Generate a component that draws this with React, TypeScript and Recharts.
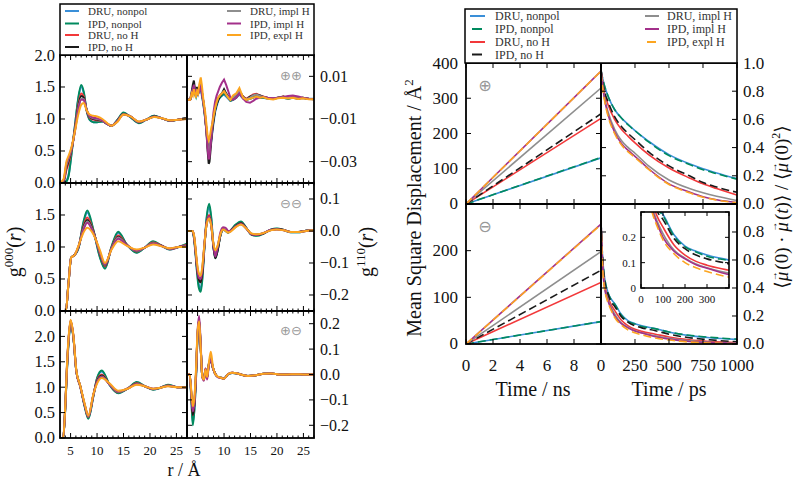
import React from "react";
import { LineChart, Line, XAxis, YAxis } from "recharts";

const SERIF = "'Liberation Serif', 'DejaVu Serif', serif";
const SYMBOL = "'DejaVu Sans', sans-serif";

// series order: DRU nonpol, IPD nonpol, DRU no H, IPD no H, DRU impl H, IPD impl H, IPD expl H
const seriesNames = ["DRU, nonpol", "IPD, nonpol", "DRU, no H", "IPD, no H", "DRU, impl H", "IPD, impl H", "IPD, expl H"];
const seriesColors = ["#3A8FD8", "#008A5E", "#F2383A", "#1A1A1A", "#8E8E8E", "#A3308A", "#FCA520"];
const dashedRight = [false, true, false, true, false, false, true];

// ---- g000(r), ++ ----
const r000PP = [3, 3.7, 4.2, 4.6, 5.2, 5.8, 6.4, 7.0, 7.5, 8.0, 8.6, 9.3, 10, 11, 12, 12.7, 13.8, 15, 16.3, 17.9, 19.3, 20.8, 22.3, 23.8, 25.3, 27];
const g000PP = [
  [0, 0, 0.03, 0.12, 0.48, 0.88, 1.28, 1.5, 1.4, 1.14, 0.99, 0.95, 0.95, 0.96, 0.92, 0.89, 0.98, 1.09, 1.03, 0.94, 0.99, 1.05, 1.01, 0.97, 0.99, 1.02],
  [0, 0, 0.02, 0.1, 0.47, 0.88, 1.3, 1.53, 1.42, 1.15, 0.99, 0.95, 0.95, 0.96, 0.92, 0.89, 0.98, 1.1, 1.03, 0.935, 0.99, 1.05, 1.01, 0.97, 0.99, 1.02],
  [0, 0.02, 0.2, 0.3, 0.52, 0.84, 1.2, 1.4, 1.35, 1.15, 1.02, 0.99, 0.98, 0.97, 0.92, 0.895, 0.97, 1.08, 1.04, 0.95, 0.99, 1.04, 1.01, 0.975, 0.99, 1.01],
  [0, 0.03, 0.24, 0.34, 0.53, 0.82, 1.17, 1.36, 1.33, 1.15, 1.03, 1.0, 0.99, 0.97, 0.92, 0.895, 0.97, 1.08, 1.04, 0.95, 0.99, 1.04, 1.01, 0.975, 0.99, 1.01],
  [0, 0.04, 0.27, 0.37, 0.54, 0.81, 1.14, 1.32, 1.31, 1.15, 1.04, 1.01, 1.0, 0.975, 0.92, 0.895, 0.965, 1.075, 1.04, 0.955, 0.99, 1.035, 1.01, 0.975, 0.99, 1.005],
  [0, 0.05, 0.3, 0.39, 0.55, 0.8, 1.12, 1.3, 1.3, 1.15, 1.05, 1.02, 1.01, 0.98, 0.92, 0.895, 0.96, 1.07, 1.04, 0.955, 0.99, 1.035, 1.01, 0.975, 0.99, 1.0],
  [0, 0.07, 0.33, 0.42, 0.57, 0.8, 1.05, 1.22, 1.25, 1.14, 1.07, 1.05, 1.04, 1.0, 0.93, 0.895, 0.95, 1.07, 1.04, 0.96, 0.99, 1.03, 1.01, 0.98, 0.99, 1.0],
];

// ---- g000(r), -- ----
const r000MM = [3, 4.1, 4.6, 5.1, 5.8, 6.5, 7.4, 8.15, 9.3, 10.5, 11.5, 12.75, 14, 15.6, 17.5, 19, 20.6, 22.2, 23.75, 25.4, 27];
const g000MM = [
  [0, 0, 0.43, 0.83, 0.88, 0.99, 1.36, 1.54, 1.26, 0.86, 0.67, 1.0, 1.22, 1.04, 0.915, 0.99, 1.08, 1.02, 0.96, 1.0, 1.04],
  [0, 0, 0.43, 0.83, 0.88, 0.98, 1.38, 1.57, 1.27, 0.85, 0.66, 1.01, 1.24, 1.04, 0.91, 0.99, 1.09, 1.02, 0.96, 1.0, 1.05],
  [0, 0, 0.43, 0.83, 0.88, 1.0, 1.32, 1.46, 1.25, 0.9, 0.7, 0.99, 1.18, 1.04, 0.93, 0.99, 1.07, 1.02, 0.965, 1.0, 1.03],
  [0, 0, 0.43, 0.83, 0.88, 1.0, 1.3, 1.42, 1.24, 0.91, 0.71, 0.985, 1.16, 1.035, 0.935, 0.99, 1.06, 1.02, 0.97, 1.0, 1.02],
  [0, 0, 0.43, 0.83, 0.88, 1.01, 1.28, 1.4, 1.23, 0.92, 0.72, 0.98, 1.15, 1.03, 0.94, 0.99, 1.06, 1.015, 0.97, 1.0, 1.02],
  [0, 0, 0.43, 0.83, 0.88, 1.01, 1.26, 1.38, 1.22, 0.93, 0.73, 0.975, 1.13, 1.03, 0.945, 0.99, 1.05, 1.015, 0.975, 1.0, 1.01],
  [0, 0, 0.43, 0.83, 0.88, 1.02, 1.22, 1.3, 1.2, 0.96, 0.75, 0.96, 1.09, 1.02, 0.96, 0.99, 1.04, 1.01, 0.98, 1.0, 1.0],
];

// ---- g000(r), +- ----
const r000PM = [3, 3.6, 4.0, 4.3, 4.6, 5.0, 5.5, 6.1, 6.8, 7.7, 8.35, 9.3, 10.0, 10.9, 12.4, 14.0, 15.9, 17.5, 19.0, 20.6, 22.0, 23.4, 25.2, 27];
const g000PM = [
  [0, 0, 0.6, 1.3, 1.85, 2.26, 2.0, 1.3, 1.03, 0.61, 0.39, 0.82, 1.17, 1.31, 1.04, 0.885, 0.98, 1.09, 1.02, 0.955, 0.99, 1.045, 1.0, 1.0],
  [0, 0, 0.6, 1.3, 1.85, 2.25, 2.0, 1.3, 1.03, 0.6, 0.38, 0.82, 1.18, 1.33, 1.04, 0.88, 0.98, 1.1, 1.02, 0.95, 0.99, 1.05, 1.0, 1.0],
  [0, 0, 0.62, 1.35, 1.9, 2.3, 2.02, 1.3, 1.03, 0.63, 0.41, 0.84, 1.14, 1.25, 1.05, 0.9, 0.98, 1.08, 1.02, 0.96, 0.99, 1.035, 1.0, 1.0],
  [0, 0, 0.62, 1.35, 1.9, 2.3, 2.02, 1.3, 1.03, 0.63, 0.42, 0.84, 1.12, 1.23, 1.05, 0.905, 0.98, 1.07, 1.02, 0.965, 0.99, 1.03, 1.0, 1.0],
  [0, 0, 0.63, 1.37, 1.92, 2.31, 2.03, 1.3, 1.03, 0.64, 0.42, 0.84, 1.1, 1.21, 1.05, 0.91, 0.98, 1.065, 1.02, 0.965, 0.99, 1.03, 1.0, 1.0],
  [0, 0, 0.64, 1.38, 1.93, 2.32, 2.04, 1.3, 1.03, 0.64, 0.43, 0.85, 1.1, 1.2, 1.055, 0.915, 0.98, 1.06, 1.02, 0.97, 0.99, 1.025, 1.0, 1.0],
  [0, 0, 0.65, 1.4, 1.95, 2.33, 2.05, 1.32, 1.04, 0.66, 0.44, 0.86, 1.07, 1.18, 1.07, 0.93, 0.975, 1.05, 1.02, 0.97, 0.99, 1.02, 1.0, 1.0],
];

// ---- g110(r), ++ ----
const r110PP = [
  3, 3.6, 3.9, 4.1, 4.3, 4.5, 4.7, 4.9, 5.1, 5.3,
  5.6, 5.8, 6.1, 6.4, 6.7, 6.9, 7.1, 7.25, 7.4, 7.6,
  7.8, 8.0, 8.3, 8.6, 8.9, 9.2, 9.6, 10.0, 10.4, 10.8,
  11.2, 11.7, 12.3, 12.9, 13.6, 14.2, 14.9, 15.5, 16.1, 16.8,
  17.4, 18.2, 19.3, 20.2, 21.2, 22.1, 23, 24, 24.9, 26,
  27,
];
const g110PP = [
  [
    -0.001, -0.001, 0.001, 0.003, 0.004, 0.002, 0.0, 0.003, 0.0015, 0.003,
    0.004, 0.001, -0.003, -0.009, -0.015, -0.02, -0.023, -0.024, -0.023, -0.02,
    -0.016, -0.012, -0.007, -0.004, -0.0015, 0.0, 0.001, 0.0015, 0.0005, -0.0005,
    -0.0015, -0.001, 0.0, 0.0015, -0.0005, -0.001, -0.0005, 0.0, 0.0005, 0.0,
    0.0, -0.0005, -0.0005, 0.0, 0.0, -0.0005, 0.0, -0.0003, 0.0, -0.0005,
    -0.0005,
  ],
  [
    -0.001, -0.001, 0.001, 0.003, 0.005, 0.002, 0.0005, 0.003, 0.002, 0.003,
    0.005, 0.002, -0.003, -0.009, -0.016, -0.022, -0.025, -0.024, -0.022, -0.018,
    -0.014, -0.01, -0.006, -0.003, -0.001, 0.0, 0.001, 0.002, 0.001, 0.0,
    -0.0015, -0.001, 0.0, 0.002, 0.0, -0.001, -0.0005, 0.0, 0.0005, 0.0,
    0.0, -0.0003, -0.0005, 0.0, 0.0, -0.0005, 0.0, -0.0003, 0.0, -0.0005,
    -0.0006,
  ],
  [
    -0.001, -0.001, 0.002, 0.004, 0.006, 0.003, 0.001, 0.004, 0.002, 0.004,
    0.006, 0.003, -0.002, -0.008, -0.016, -0.023, -0.027, -0.026, -0.023, -0.019,
    -0.014, -0.01, -0.005, -0.002, 0.0, 0.001, 0.002, 0.003, 0.0015, 0.0,
    -0.001, 0.0, 0.001, 0.003, 0.0005, -0.0005, 0.0005, 0.0015, 0.0018, 0.001,
    0.0005, 0.0, -0.0003, 0.0, 0.0005, 0.0, 0.0003, -0.0003, 0.0, -0.0005,
    -0.0007,
  ],
  [
    -0.001, -0.001, 0.003, 0.006, 0.008, 0.004, 0.0015, 0.005, 0.003, 0.004,
    0.006, 0.003, -0.002, -0.008, -0.017, -0.025, -0.031, -0.03, -0.026, -0.02,
    -0.015, -0.011, -0.006, -0.003, -0.001, 0.0005, 0.002, 0.004, 0.002, 0.0005,
    -0.001, 0.0, 0.0015, 0.003, 0.0005, -0.001, 0.0005, 0.001, 0.0015, 0.001,
    0.0005, 0.0, -0.0005, 0.0, 0.0005, -0.0003, 0.0, -0.0005, -0.0002, -0.0006,
    -0.0008,
  ],
  [
    -0.001, -0.001, 0.002, 0.004, 0.005, 0.003, 0.001, 0.004, 0.002, 0.004,
    0.006, 0.003, -0.002, -0.008, -0.016, -0.022, -0.026, -0.025, -0.022, -0.018,
    -0.013, -0.009, -0.005, -0.002, 0.0, 0.001, 0.002, 0.003, 0.0015, 0.0,
    -0.001, 0.0, 0.0015, 0.003, 0.0, -0.0008, 0.0, 0.001, 0.0015, 0.0008,
    0.0003, 0.0, -0.0003, 0.0, 0.0003, -0.0002, 0.0, -0.0004, 0.0, -0.0005,
    -0.0006,
  ],
  [
    -0.001, -0.001, 0.002, 0.004, 0.006, 0.003, 0.001, 0.004, 0.002, 0.003,
    0.005, 0.002, -0.002, -0.008, -0.016, -0.024, -0.029, -0.028, -0.024, -0.018,
    -0.012, -0.007, -0.002, 0.001, 0.003, 0.005, 0.007, 0.0085, 0.006, 0.003,
    0.0, -0.001, 0.0, 0.002, -0.0005, -0.002, -0.0024, -0.0015, -0.0005, 0.0,
    0.0005, 0.0, -0.0003, 0.0, 0.0003, 0.0008, 0.001, 0.0005, 0.0, -0.0005,
    -0.0006,
  ],
  [
    -0.001, -0.001, 0.002, 0.001, 0.004, 0.002, 0.0, 0.003, 0.002, 0.006,
    0.0095, 0.006, -0.001, -0.006, -0.013, -0.018, -0.02, -0.019, -0.017, -0.014,
    -0.012, -0.009, -0.005, -0.002, 0.0, 0.001, 0.002, 0.003, 0.0015, 0.0,
    -0.001, 0.001, 0.002, 0.0045, 0.0, -0.001, -0.0005, 0.0, 0.0005, 0.0,
    0.0003, -0.0005, -0.0008, -0.0003, 0.0, -0.0004, 0.0, -0.0006, -0.0003, -0.0008,
    -0.0007,
  ],
];

// ---- g110(r), -- ----
const r110MM = [3, 4.0, 4.3, 4.6, 4.9, 5.2, 5.6, 5.9, 6.3, 6.7, 7.2, 7.6, 8.0, 8.35, 8.8, 9.3, 9.8, 10.3, 10.8, 11.4, 12.2, 13.2, 14.2, 15.2, 16.2, 17.5, 18.8, 20, 21.3, 22.6, 24, 25.5, 27];
const g110MM = [
  [0, 0, -0.02, -0.065, -0.125, -0.165, -0.18, -0.145, -0.05, 0.035, 0.075, 0.035, -0.05, -0.08, -0.058, -0.015, 0.004, 0.0, -0.005, 0.004, 0.018, 0.027, 0.01, -0.011, -0.014, -0.007, 0.004, 0.007, 0.003, -0.004, -0.004, 0.001, 0.003],
  [0, 0, -0.02, -0.07, -0.13, -0.175, -0.19, -0.15, -0.05, 0.04, 0.085, 0.04, -0.05, -0.085, -0.06, -0.015, 0.005, 0.0, -0.005, 0.005, 0.02, 0.03, 0.01, -0.012, -0.015, -0.008, 0.004, 0.008, 0.003, -0.004, -0.004, 0.001, 0.003],
  [0, 0, -0.015, -0.06, -0.115, -0.15, -0.16, -0.13, -0.045, 0.025, 0.05, 0.02, -0.045, -0.075, -0.055, -0.013, 0.006, 0.002, -0.004, 0.003, 0.015, 0.024, 0.009, -0.01, -0.012, -0.007, 0.003, 0.006, 0.003, -0.003, -0.003, 0.001, 0.002],
  [0, 0, -0.015, -0.06, -0.115, -0.15, -0.16, -0.13, -0.045, 0.022, 0.045, 0.015, -0.05, -0.085, -0.06, -0.015, 0.005, 0.002, -0.004, 0.003, 0.015, 0.024, 0.009, -0.01, -0.012, -0.007, 0.003, 0.006, 0.003, -0.003, -0.003, 0.001, 0.002],
  [0, 0, -0.012, -0.055, -0.105, -0.135, -0.14, -0.115, -0.04, 0.02, 0.04, 0.015, -0.04, -0.065, -0.048, -0.012, 0.005, 0.002, -0.004, 0.002, 0.013, 0.021, 0.008, -0.009, -0.011, -0.006, 0.003, 0.005, 0.002, -0.003, -0.003, 0.0, 0.002],
  [0, 0, -0.013, -0.058, -0.11, -0.145, -0.15, -0.12, -0.04, 0.025, 0.045, 0.015, -0.045, -0.08, -0.05, -0.005, 0.012, 0.01, 0.0, 0.003, 0.014, 0.022, 0.008, -0.01, -0.012, -0.006, 0.003, 0.005, 0.002, -0.003, -0.003, 0.0, 0.002],
  [0, 0, -0.01, -0.05, -0.1, -0.13, -0.14, -0.11, -0.04, 0.02, 0.04, 0.015, -0.04, -0.06, -0.045, -0.01, 0.005, 0.0, -0.005, 0.0, 0.012, 0.02, 0.008, -0.008, -0.01, -0.006, 0.002, 0.005, 0.002, -0.003, -0.003, 0.0, 0.002],
];

// ---- g110(r), +- ----
const r110PM = [3, 3.5, 3.8, 4.1, 4.4, 4.7, 5.0, 5.3, 5.6, 5.9, 6.2, 6.5, 6.8, 7.1, 7.5, 7.9, 8.3, 8.8, 9.4, 10, 10.8, 11.6, 12.5, 13.5, 14.5, 16, 17.5, 19, 20.5, 22, 23.5, 25, 27];
const g110PM = [
  [0, 0, -0.085, -0.19, -0.135, -0.015, 0.15, 0.2, 0.1, -0.01, -0.02, 0.02, -0.01, 0.035, 0.055, 0.025, 0.004, -0.009, -0.013, -0.015, 0.001, 0.006, 0.004, -0.002, -0.006, -0.003, 0.003, 0.003, 0.0, 0.0, 0.001, 0.0, 0.0],
  [0, 0, -0.09, -0.2, -0.14, -0.02, 0.15, 0.2, 0.1, -0.01, -0.02, 0.02, -0.01, 0.035, 0.055, 0.025, 0.004, -0.009, -0.013, -0.015, 0.001, 0.006, 0.004, -0.002, -0.006, -0.003, 0.003, 0.003, 0.0, 0.0, 0.001, 0.0, 0.0],
  [0, 0, -0.075, -0.16, -0.115, 0.0, 0.16, 0.215, 0.1, -0.01, -0.02, 0.022, -0.012, 0.035, 0.06, 0.027, 0.004, -0.009, -0.013, -0.015, 0.002, 0.007, 0.004, -0.002, -0.006, -0.003, 0.003, 0.004, 0.0, 0.0, 0.001, 0.0, 0.0],
  [0, 0, -0.075, -0.16, -0.115, 0.0, 0.16, 0.215, 0.1, -0.01, -0.02, 0.022, -0.012, 0.04, 0.056, 0.027, 0.004, -0.009, -0.013, -0.016, 0.002, 0.007, 0.004, -0.002, -0.006, -0.003, 0.003, 0.004, 0.0, 0.0, 0.001, 0.0, 0.0],
  [0, 0, -0.07, -0.14, -0.1, 0.01, 0.165, 0.215, 0.105, -0.01, -0.02, 0.022, -0.012, 0.038, 0.07, 0.028, 0.004, -0.009, -0.013, -0.016, 0.002, 0.007, 0.004, -0.002, -0.006, -0.003, 0.003, 0.004, 0.0, 0.0, 0.001, 0.0, 0.0],
  [0, 0, -0.07, -0.145, -0.11, 0.0, 0.17, 0.23, 0.11, -0.01, -0.025, 0.025, -0.02, 0.03, 0.06, 0.025, 0.004, -0.01, -0.014, -0.016, 0.002, 0.007, 0.004, -0.002, -0.006, -0.003, 0.003, 0.004, 0.0, 0.0, 0.001, 0.0, 0.0],
  [0, 0, -0.06, -0.125, -0.09, 0.02, 0.17, 0.21, 0.1, -0.01, -0.02, 0.02, -0.01, 0.04, 0.09, 0.03, 0.004, -0.008, -0.013, -0.016, 0.002, 0.007, 0.004, -0.002, -0.006, -0.003, 0.003, 0.004, 0.0, 0.0, 0.001, 0.0, 0.0],
];

// ---- mean square displacement (Å^2) vs time (ns) ----
const tMSD = [0, 10];
const msdPlus = [[0, 131], [0, 132], [0, 243], [0, 256], [0, 329], [0, 377], [0, 377]];
const msdMinus = [[0, 48], [0, 48], [0, 132], [0, 158], [0, 198], [0, 257], [0, 256]];

// ---- dipole autocorrelation vs time (ps) ----
const tDipPlus = [0, 10, 25, 50, 100, 150, 200, 250, 350, 500, 650, 750, 850, 1000];
const dipPlus = [
  [0.95, 0.9, 0.84, 0.77, 0.67, 0.61, 0.565, 0.52, 0.445, 0.35, 0.285, 0.25, 0.22, 0.18],
  [0.95, 0.9, 0.84, 0.77, 0.67, 0.61, 0.56, 0.52, 0.44, 0.343, 0.28, 0.243, 0.215, 0.176],
  [0.95, 0.88, 0.79, 0.71, 0.6, 0.53, 0.48, 0.433, 0.35, 0.255, 0.185, 0.143, 0.11, 0.064],
  [0.95, 0.88, 0.8, 0.73, 0.62, 0.55, 0.5, 0.457, 0.37, 0.27, 0.2, 0.152, 0.12, 0.083],
  [0.95, 0.86, 0.76, 0.66, 0.53, 0.45, 0.4, 0.36, 0.27, 0.17, 0.11, 0.08, 0.055, 0.025],
  [0.95, 0.85, 0.75, 0.64, 0.51, 0.43, 0.38, 0.338, 0.25, 0.143, 0.085, 0.052, 0.03, 0.01],
  [0.93, 0.84, 0.74, 0.63, 0.5, 0.42, 0.37, 0.33, 0.245, 0.138, 0.08, 0.048, 0.028, 0.008],
];
const tDipMinus = [0, 5, 10, 20, 30, 50, 75, 100, 150, 200, 250, 300, 400, 500, 650, 800, 1000];
const dipMinus = [
  [0.88, 0.75, 0.65, 0.52, 0.45, 0.37, 0.32, 0.29, 0.21, 0.165, 0.145, 0.13, 0.11, 0.085, 0.06, 0.045, 0.033],
  [0.88, 0.75, 0.65, 0.52, 0.45, 0.37, 0.315, 0.285, 0.205, 0.162, 0.142, 0.125, 0.108, 0.085, 0.062, 0.048, 0.035],
  [0.88, 0.73, 0.62, 0.48, 0.41, 0.34, 0.28, 0.24, 0.17, 0.13, 0.105, 0.09, 0.07, 0.05, 0.03, 0.018, 0.01],
  [0.88, 0.74, 0.63, 0.5, 0.43, 0.36, 0.3, 0.27, 0.195, 0.155, 0.13, 0.115, 0.095, 0.07, 0.045, 0.03, 0.015],
  [0.88, 0.72, 0.6, 0.46, 0.39, 0.32, 0.26, 0.215, 0.15, 0.118, 0.095, 0.08, 0.058, 0.04, 0.022, 0.012, 0.006],
  [0.88, 0.72, 0.6, 0.45, 0.38, 0.31, 0.25, 0.2, 0.145, 0.115, 0.092, 0.078, 0.052, 0.035, 0.018, 0.01, 0.005],
  [0.87, 0.71, 0.58, 0.44, 0.37, 0.3, 0.24, 0.19, 0.135, 0.1, 0.08, 0.065, 0.043, 0.028, 0.014, 0.007, 0.003],
];

// ---- tick values ----
const rTicks = [3, 4, 5, 6, 7, 8, 9, 10, 11, 12, 13, 14, 15, 16, 17, 18, 19, 20, 21, 22, 23, 24, 25, 26, 27];
const rMajor = [5, 10, 15, 20, 25];
const gTicks = [0, 0.5, 1, 1.5, 2];
const gTicks3 = [0, 0.5, 1, 1.5, 2, 2.5];
const g110TicksPP = [0.01, -0.01, -0.03];
const g110TicksMM = [-0.2, -0.1, 0, 0.1];
const g110TicksPM = [-0.2, -0.1, 0, 0.1, 0.2];
const nsTicks = [0, 2, 4, 6, 8, 10];
const nsLabels = [0, 2, 4, 6, 8];
const msdTicks = [0, 100, 200, 300, 400];
const psTicks = [0, 250, 500, 750, 1000];
const dipTicks = [0, 0.2, 0.4, 0.6, 0.8, 1.0];
const insetX = [0, 100, 200, 300, 400];
const insetXLabels = [0, 100, 200, 300];
const insetY = [0, 0.1, 0.2, 0.3];

const minus = (s: string) => s.replace("-", "\u2212");
const f1 = (v: number) => minus(v.toFixed(1));
const f2 = (v: number) => minus(v.toFixed(2));
const f0 = (v: number) => String(Math.round(v));
const fInsetY = (v: number) => (v === 0 ? "0" : v.toFixed(1));

type AxisSpec = { ticks: number[]; major: number[]; labeled: number[]; fmt: (v: number) => string; font: number; gap: number };

type PanelProps = {
  left: number; top: number; w: number; h: number;
  xs: number[]; ys: number[][];
  xDomain: [number, number]; yDomain: [number, number];
  xSpec: AxisSpec; ySpec: AxisSpec; ySide: "left" | "right";
  curve: "monotone" | "linear"; lw: number; dashes?: boolean[];
  tickLen?: number; minorLen?: number;
};

const near = (list: number[], v: number) => list.some((m) => Math.abs(m - v) < 1e-9);
// axes need a positive size to be drawn at all
const AX = 0.01;

function Panel(p: PanelProps) {
  const data = p.xs.map((x, i) => {
    const row: Record<string, number> = { x };
    p.ys.forEach((s, k) => {
      row["s" + k] = s[i];
    });
    return row;
  });
  const L = p.tickLen ?? 5;
  const l = p.minorLen ?? 2.5;
  const right = p.ySide === "right";

  const xTick = (t: any) => {
    const v = Number(t.payload.value);
    const len = near(p.xSpec.major, v) ? L : l;
    const x = t.x;
    const y = p.h;
    return (
      <g>
        <line x1={x} x2={x} y1={y} y2={y - len} stroke="#000" strokeWidth={1} />
        <line x1={x} x2={x} y1={0} y2={len} stroke="#000" strokeWidth={1} />
        {near(p.xSpec.labeled, v) && (
          <text x={x} y={y + p.xSpec.gap} textAnchor="middle" dominantBaseline="central" fontSize={p.xSpec.font} fontFamily={SERIF} fill="#111">
            {p.xSpec.fmt(v)}
          </text>
        )}
      </g>
    );
  };

  const yTick = (t: any) => {
    const v = Number(t.payload.value);
    const len = near(p.ySpec.major, v) ? L : l;
    const y = t.y;
    const x = right ? p.w : 0;
    const dir = right ? -1 : 1;
    const other = right ? 0 : p.w;
    return (
      <g>
        <line x1={x} x2={x + dir * len} y1={y} y2={y} stroke="#000" strokeWidth={1} />
        <line x1={other} x2={other - dir * len} y1={y} y2={y} stroke="#000" strokeWidth={1} />
        {near(p.ySpec.labeled, v) && (
          <text x={x - dir * p.ySpec.gap} y={y} textAnchor={right ? "start" : "end"} dominantBaseline="central" fontSize={p.ySpec.font} fontFamily={SERIF} fill="#111">
            {p.ySpec.fmt(v)}
          </text>
        )}
      </g>
    );
  };

  return (
    <div style={{ position: "absolute", left: p.left, top: p.top, width: p.w, height: p.h }}>
      <LineChart width={p.w} height={p.h} data={data} margin={{ top: 0, right: 0, bottom: 0, left: 0 }}>
        <XAxis dataKey="x" type="number" domain={p.xDomain} ticks={p.xSpec.ticks} interval={0} height={AX} tickSize={0} tickMargin={0} tickLine={false} axisLine={false} tick={xTick} allowDataOverflow />
        <YAxis type="number" orientation={p.ySide} domain={p.yDomain} ticks={p.ySpec.ticks} interval={0} width={AX} tickSize={0} tickMargin={0} tickLine={false} axisLine={false} tick={yTick} allowDataOverflow />
        {p.ys.map((_, k) => (
          <Line
            key={k}
            dataKey={"s" + k}
            name={seriesNames[k]}
            type={p.curve}
            stroke={seriesColors[k]}
            strokeWidth={p.lw}
            strokeDasharray={p.dashes && p.dashes[k] ? "8 4" : undefined}
            dot={false}
            activeDot={false}
            isAnimationActive={false}
          />
        ))}
      </LineChart>
    </div>
  );
}

// layout
const LX = [60, 187, 314];
const LY = [55, 183, 311, 438];
const RX = [466, 601, 737];
const RY = [63, 204, 344];
const INSET = { x: 641, y: 212, w: 88, h: 76 };

const rAxis = (labels: boolean): AxisSpec => ({ ticks: rTicks, major: rMajor, labeled: labels ? rMajor : [], fmt: f0, font: 13, gap: 12 });
const gAxis = (ticks: number[], labeled: number[]): AxisSpec => ({ ticks, major: ticks, labeled, fmt: f1, font: 16.5, gap: 5 });
const g110Axis = (ticks: number[], fmt: (v: number) => string): AxisSpec => ({ ticks, major: ticks, labeled: ticks, fmt, font: 16, gap: 6 });

function Legend({ x, y, w, h, rows, col1, col2, font, dashed }: { x: number; y: number; w: number; h: number; rows: number[]; col1: [number, number, number]; col2: [number, number, number]; font: number; dashed: boolean }) {
  const left = [0, 1, 2, 3];
  const rightCol = [4, 5, 6];
  const entry = (k: number, c: [number, number, number], ry: number) => {
    const d = dashed && dashedRight[k];
    return (
      <g key={k}>
        <line x1={d ? c[0] + 2 : c[0]} x2={d ? c[1] - 3 : c[1]} y1={ry} y2={ry} stroke={seriesColors[k]} strokeWidth={2} />
        <text x={c[2]} y={ry} dominantBaseline="central" fontSize={font} fontFamily={SERIF} fill="#333">
          {seriesNames[k]}
        </text>
      </g>
    );
  };
  return (
    <g>
      <rect x={x} y={y} width={w} height={h} fill="#fff" stroke="#000" strokeWidth={1.5} />
      {left.map((k, i) => entry(k, col1, rows[i]))}
      {rightCol.map((k, i) => entry(k, col2, rows[i]))}
    </g>
  );
}

// vector mu: an italic mu with a small arrow above it
function Mu() {
  return (
    <>
      <tspan fontStyle="italic">μ</tspan>
      <tspan fontSize={10} dx={-9.5} dy={-11}>→</tspan>
      <tspan dy={11}>{"\u200A"}</tspan>
    </>
  );
}

export default function App() {
  const frames: [number, number, number, number][] = [];
  for (let r = 0; r < 3; r++) for (let c = 0; c < 2; c++) frames.push([LX[c], LY[r], LX[c + 1] - LX[c], LY[r + 1] - LY[r]]);
  for (let r = 0; r < 2; r++) for (let c = 0; c < 2; c++) frames.push([RX[c], RY[r], RX[c + 1] - RX[c], RY[r + 1] - RY[r]]);

  const lw = LX[1] - LX[0];
  const lh = LY[1] - LY[0];
  const rw0 = RX[1] - RX[0];
  const rw1 = RX[2] - RX[1];
  const rh0 = RY[1] - RY[0];
  const rh1 = RY[2] - RY[1];

  return (
    <div style={{ position: "absolute", left: 0, top: 0, width: 800, height: 481, background: "#fff", overflow: "hidden" }}>
      <style>{"body{margin:0} .recharts-surface{overflow:visible} .recharts-wrapper{overflow:visible}"}</style>

      {/* g000 column */}
      <Panel left={LX[0]} top={LY[0]} w={lw} h={lh} xs={r000PP} ys={g000PP} xDomain={[3, 27]} yDomain={[0, 2]} xSpec={rAxis(false)} ySpec={gAxis(gTicks, gTicks)} ySide="left" curve="monotone" lw={2} />
      <Panel left={LX[0]} top={LY[1]} w={lw} h={LY[2] - LY[1]} xs={r000MM} ys={g000MM} xDomain={[3, 27]} yDomain={[0, 2]} xSpec={rAxis(false)} ySpec={gAxis(gTicks, [0, 0.5, 1, 1.5])} ySide="left" curve="monotone" lw={2} />
      <Panel left={LX[0]} top={LY[2]} w={lw} h={LY[3] - LY[2]} xs={r000PM} ys={g000PM} xDomain={[3, 27]} yDomain={[0, 2.5]} xSpec={rAxis(true)} ySpec={gAxis(gTicks3, gTicks)} ySide="left" curve="monotone" lw={2} />

      {/* g110 column */}
      <Panel left={LX[1]} top={LY[0]} w={LX[2] - LX[1]} h={lh} xs={r110PP} ys={g110PP} xDomain={[3, 27]} yDomain={[-0.04, 0.02]} xSpec={rAxis(false)} ySpec={g110Axis(g110TicksPP, f2)} ySide="right" curve="linear" lw={2} />
      <Panel left={LX[1]} top={LY[1]} w={LX[2] - LX[1]} h={LY[2] - LY[1]} xs={r110MM} ys={g110MM} xDomain={[3, 27]} yDomain={[-0.25, 0.15]} xSpec={rAxis(false)} ySpec={g110Axis(g110TicksMM, f1)} ySide="right" curve="monotone" lw={2} />
      <Panel left={LX[1]} top={LY[2]} w={LX[2] - LX[1]} h={LY[3] - LY[2]} xs={r110PM} ys={g110PM} xDomain={[3, 27]} yDomain={[-0.25, 0.25]} xSpec={rAxis(true)} ySpec={g110Axis(g110TicksPM, f1)} ySide="right" curve="monotone" lw={2} />

      {/* MSD column */}
      <Panel left={RX[0]} top={RY[0]} w={rw0} h={rh0} xs={tMSD} ys={msdPlus} xDomain={[0, 10]} yDomain={[0, 400]} xSpec={{ ticks: nsTicks, major: nsTicks, labeled: [], fmt: f0, font: 17, gap: 21 }} ySpec={{ ticks: msdTicks, major: msdTicks, labeled: msdTicks, fmt: f0, font: 17, gap: 8 }} ySide="left" curve="linear" lw={1.6} dashes={dashedRight} />
      <Panel left={RX[0]} top={RY[1]} w={rw0} h={rh1} xs={tMSD} ys={msdMinus} xDomain={[0, 10]} yDomain={[0, 300]} xSpec={{ ticks: nsTicks, major: nsTicks, labeled: nsLabels, fmt: f0, font: 17, gap: 21 }} ySpec={{ ticks: [0, 100, 200, 300], major: [0, 100, 200, 300], labeled: [0, 100, 200], fmt: f0, font: 17, gap: 8 }} ySide="left" curve="linear" lw={1.6} dashes={dashedRight} />

      {/* dipole column */}
      <Panel left={RX[1]} top={RY[0]} w={rw1} h={rh0} xs={tDipPlus} ys={dipPlus} xDomain={[0, 1000]} yDomain={[0, 1]} xSpec={{ ticks: psTicks, major: psTicks, labeled: [], fmt: f0, font: 17, gap: 21 }} ySpec={{ ticks: dipTicks, major: dipTicks, labeled: dipTicks, fmt: f1, font: 17, gap: 6 }} ySide="right" curve="monotone" lw={1.6} dashes={dashedRight} />
      <Panel left={RX[1]} top={RY[1]} w={rw1} h={rh1} xs={tDipMinus} ys={dipMinus} xDomain={[0, 1000]} yDomain={[0, 1]} xSpec={{ ticks: psTicks, major: psTicks, labeled: psTicks, fmt: f0, font: 17, gap: 21 }} ySpec={{ ticks: dipTicks, major: dipTicks, labeled: [0, 0.2, 0.4, 0.6, 0.8], fmt: f1, font: 17, gap: 6 }} ySide="right" curve="monotone" lw={1.6} dashes={dashedRight} />

      {/* inset */}
      <div style={{ position: "absolute", left: INSET.x, top: INSET.y, width: INSET.w, height: INSET.h, background: "#fff" }} />
      <Panel left={INSET.x} top={INSET.y} w={INSET.w} h={INSET.h} xs={tDipMinus} ys={dipMinus} xDomain={[0, 400]} yDomain={[0, 0.3]} xSpec={{ ticks: insetX, major: insetX, labeled: insetXLabels, fmt: f0, font: 11, gap: 11 }} ySpec={{ ticks: insetY, major: insetY, labeled: [0, 0.1, 0.2], fmt: fInsetY, font: 11, gap: 5 }} ySide="left" curve="monotone" lw={1.6} dashes={dashedRight} tickLen={4} minorLen={2} />

      <svg width={800} height={481} style={{ position: "absolute", left: 0, top: 0, pointerEvents: "none" }}>
        {frames.map((f, i) => (
          <rect key={i} x={f[0]} y={f[1]} width={f[2]} height={f[3]} fill="none" stroke="#000" strokeWidth={1.8} />
        ))}
        <rect x={INSET.x} y={INSET.y} width={INSET.w} height={INSET.h} fill="none" stroke="#000" strokeWidth={1.6} />

        <Legend x={60} y={4} w={254} h={51} rows={[11, 23.5, 35, 47]} col1={[65, 79, 88]} col2={[227, 241, 250]} font={11} dashed={false} />
        <Legend x={465} y={9} w={272} h={54} rows={[16, 29, 42, 54.5]} col1={[470, 485, 495]} col2={[645, 659, 667]} font={12} dashed={true} />

        {/* panel markers */}
        <text x={291} y={75} textAnchor="middle" dominantBaseline="central" fontSize={13} fontFamily={SYMBOL} fill="#999">⊕⊕</text>
        <text x={291} y={203} textAnchor="middle" dominantBaseline="central" fontSize={13} fontFamily={SYMBOL} fill="#999">⊖⊖</text>
        <text x={291} y={330} textAnchor="middle" dominantBaseline="central" fontSize={13} fontFamily={SYMBOL} fill="#999">⊕⊖</text>
        <text x={485} y={85} textAnchor="middle" dominantBaseline="central" fontSize={16} fontFamily={SYMBOL} fill="#999">⊕</text>
        <text x={485} y={226} textAnchor="middle" dominantBaseline="central" fontSize={16} fontFamily={SYMBOL} fill="#999">⊖</text>

        {/* axis labels */}
        <text transform="translate(21,252) rotate(-90)" textAnchor="middle" fontSize={20} fontFamily={SERIF} fill="#111">
          <tspan>g</tspan>
          <tspan fontSize={13} dy={-8}>000</tspan>
          <tspan dy={8}>(</tspan>
          <tspan fontStyle="italic">r</tspan>
          <tspan>)</tspan>
        </text>
        <text transform="translate(373,252) rotate(-90)" textAnchor="middle" fontSize={20} fontFamily={SERIF} fill="#111">
          <tspan>g</tspan>
          <tspan fontSize={13} dy={-8}>110</tspan>
          <tspan dy={8}>(</tspan>
          <tspan fontStyle="italic">r</tspan>
          <tspan>)</tspan>
        </text>
        <text x={184} y={476} textAnchor="middle" fontSize={18} fontFamily={SERIF} fill="#111">
          r / Å
        </text>
        <text transform="translate(421,208) rotate(-90)" textAnchor="middle" fontSize={20} fontFamily={SERIF} fill="#111">
          <tspan>Mean Square Displacement / Å</tspan>
          <tspan fontSize={13} dy={-8}>2</tspan>
        </text>
        <text x={533} y={396} textAnchor="middle" fontSize={20} fontFamily={SERIF} fill="#111">Time / ns</text>
        <text x={669} y={396} textAnchor="middle" fontSize={20} fontFamily={SERIF} fill="#111">Time / ps</text>
        <text transform="translate(788,207) rotate(-90)" textAnchor="middle" fontSize={19} fontFamily={SERIF} fill="#111">
          <tspan>⟨</tspan>
          <Mu />
          <tspan>(0) · </tspan>
          <Mu />
          <tspan>(</tspan>
          <tspan fontStyle="italic">t</tspan>
          <tspan>)⟩ / ⟨</tspan>
          <Mu />
          <tspan>(0)</tspan>
          <tspan fontSize={12} dy={-8}>2</tspan>
          <tspan dy={8}>⟩</tspan>
        </text>
      </svg>
    </div>
  );
}
